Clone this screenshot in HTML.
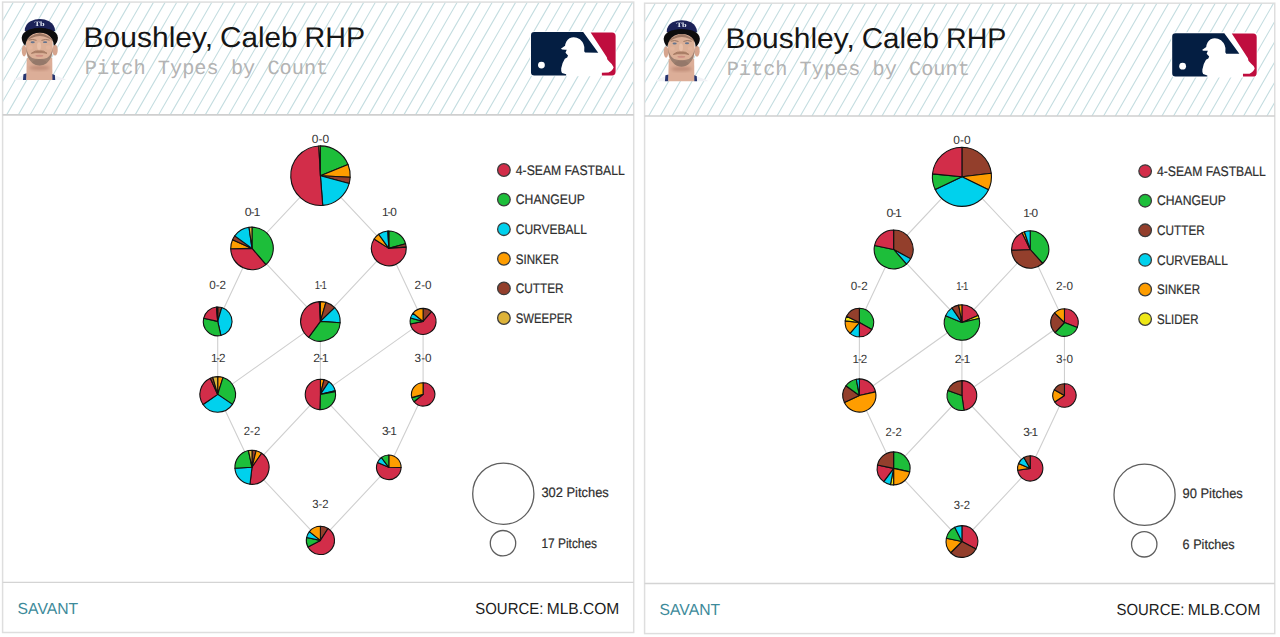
<!DOCTYPE html>
<html><head><meta charset="utf-8"><title>Pitch Types by Count</title>
<style>
html,body{margin:0;padding:0;background:#fff;}
body{width:1280px;height:637px;overflow:hidden;font-family:"Liberation Sans",sans-serif;}
svg{display:block;}
</style></head><body>
<svg width="1280" height="637" viewBox="0 0 1280 637" text-rendering="geometricPrecision">
<rect width="1280" height="637" fill="#fff"/>
<g transform="translate(0,0) scale(1,1)">
<rect x="2.6" y="2.1" width="631.1" height="630.4" fill="#fff" stroke="#dedede" stroke-width="1.5"/>
<clipPath id="hc0"><rect x="3.2" y="2.7" width="629.9" height="112.2"/></clipPath>
<g clip-path="url(#hc0)"><path d="M-86.81,114.9L-21.69,2.1M-75.13,114.9L-10.01,2.1M-63.45,114.9L1.68,2.1M-51.77,114.9L13.36,2.1M-40.08,114.9L25.04,2.1M-28.40,114.9L36.73,2.1M-16.72,114.9L48.41,2.1M-5.03,114.9L60.09,2.1M6.65,114.9L71.78,2.1M18.33,114.9L83.46,2.1M30.02,114.9L95.14,2.1M41.70,114.9L106.82,2.1M53.38,114.9L118.51,2.1M65.06,114.9L130.19,2.1M76.75,114.9L141.87,2.1M88.43,114.9L153.56,2.1M100.11,114.9L165.24,2.1M111.80,114.9L176.92,2.1M123.48,114.9L188.61,2.1M135.16,114.9L200.29,2.1M146.85,114.9L211.97,2.1M158.53,114.9L223.65,2.1M170.21,114.9L235.34,2.1M181.90,114.9L247.02,2.1M193.58,114.9L258.70,2.1M205.26,114.9L270.39,2.1M216.94,114.9L282.07,2.1M228.63,114.9L293.75,2.1M240.31,114.9L305.44,2.1M251.99,114.9L317.12,2.1M263.68,114.9L328.80,2.1M275.36,114.9L340.48,2.1M287.04,114.9L352.17,2.1M298.72,114.9L363.85,2.1M310.41,114.9L375.53,2.1M322.09,114.9L387.22,2.1M333.77,114.9L398.90,2.1M345.46,114.9L410.58,2.1M357.14,114.9L422.27,2.1M368.82,114.9L433.95,2.1M380.51,114.9L445.63,2.1M392.19,114.9L457.31,2.1M403.87,114.9L469.00,2.1M415.55,114.9L480.68,2.1M427.24,114.9L492.36,2.1M438.92,114.9L504.05,2.1M450.60,114.9L515.73,2.1M462.29,114.9L527.41,2.1M473.97,114.9L539.10,2.1M485.65,114.9L550.78,2.1M497.34,114.9L562.46,2.1M509.02,114.9L574.14,2.1M520.70,114.9L585.83,2.1M532.38,114.9L597.51,2.1M544.07,114.9L609.19,2.1M555.75,114.9L620.88,2.1M567.43,114.9L632.56,2.1M579.12,114.9L644.24,2.1M590.80,114.9L655.93,2.1M602.48,114.9L667.61,2.1M614.17,114.9L679.29,2.1M625.85,114.9L690.97,2.1M637.53,114.9L702.66,2.1" stroke="#c4dde0" stroke-width="1.1" fill="none"/></g>
<line x1="2.6" y1="114.9" x2="633.7" y2="114.9" stroke="#cfcfcf" stroke-width="1.6"/>
<line x1="2.6" y1="582.4" x2="633.7" y2="582.4" stroke="#d4d4d4" stroke-width="1.4"/>
<g transform="translate(14,14) scale(0.10989)"><defs><filter id="bl" x="-10%" y="-10%" width="120%" height="120%"><feGaussianBlur stdDeviation="4"/></filter><filter id="bl2" x="-20%" y="-20%" width="140%" height="140%"><feGaussianBlur stdDeviation="6.5"/></filter><filter id="bl3" x="-30%" y="-30%" width="160%" height="160%"><feGaussianBlur stdDeviation="14"/></filter><clipPath id="pc"><rect x="-20" y="0" width="520" height="601"/></clipPath></defs><g clip-path="url(#pc)"><g filter="url(#bl)"><path d="M0,620 L0,592 Q40,575 95,552 L360,555 Q420,575 470,595 L470,620Z" fill="#f1f2f6"/><path d="M80,620 L86,548 L116,540 L112,620Z" fill="#28356f"/><path d="M340,620 L344,545 L372,556 L376,620Z" fill="#28356f"/><path d="M116,400 L112,620 L350,620 L348,400Z" fill="#dcae98"/><ellipse cx="92" cy="335" rx="21" ry="52" fill="#d6a58e"/><ellipse cx="374" cy="328" rx="24" ry="50" fill="#d6a58e"/><path d="M106,140 L352,140 L352,340 Q345,420 295,455 Q232,485 172,455 Q120,420 110,340Z" fill="#dcb097"/></g><g filter="url(#bl3)"><ellipse cx="232" cy="490" rx="95" ry="22" fill="#b98672" opacity="0.8"/></g><g filter="url(#bl2)"><path d="M110,300 Q112,400 168,448 Q232,490 298,448 Q352,400 354,300 Q340,380 300,400 Q270,412 232,410 Q195,412 165,400 Q124,380 110,300Z" fill="#957a6b" opacity="0.9"/><ellipse cx="232" cy="440" rx="62" ry="26" fill="#937869" opacity="0.9"/></g><g filter="url(#bl)"><path d="M158,358 Q190,328 230,336 Q270,328 300,358 Q262,348 230,352 Q196,348 158,358Z" fill="#a87c65" stroke="#a87c65" stroke-width="9" stroke-linejoin="round"/><ellipse cx="231" cy="380" rx="36" ry="9" fill="#cd8f82"/></g><g filter="url(#bl2)"><ellipse cx="228" cy="292" rx="18" ry="34" fill="#e8c0a8"/><ellipse cx="150" cy="305" rx="22" ry="20" fill="#e2b59c"/><ellipse cx="312" cy="305" rx="22" ry="20" fill="#e2b59c"/></g><g filter="url(#bl)"><path d="M135,238 Q170,224 205,240 M250,240 Q285,224 325,238" stroke="#9a7560" stroke-width="9" fill="none"/><ellipse cx="170" cy="258" rx="19" ry="9" fill="#66748e"/><ellipse cx="283" cy="256" rx="19" ry="9" fill="#66748e"/><path d="M110,250 Q130,195 235,172 Q335,195 356,250 Q310,205 235,200 Q160,205 110,250Z" fill="#8e6b58" opacity="0.8"/><path d="M98,155 Q96,98 150,66 Q235,26 320,66 Q374,98 374,155Z" fill="#1b2259"/><path d="M70,215 Q72,165 140,140 Q235,112 332,140 Q398,165 400,215 Q398,262 362,290 Q358,215 300,185 Q235,158 170,185 Q112,215 104,290 Q72,262 70,215Z" fill="#0b0b10"/><text x="232" y="112" text-anchor="middle" font-family="Liberation Serif, serif" font-weight="bold" font-size="60" fill="#e9eef8" textLength="92" lengthAdjust="spacingAndGlyphs">Tb</text></g></g></g>
<text x="83.6" y="46.9" font-family="Liberation Sans, sans-serif" font-size="28.5" fill="#161616" textLength="129.5" lengthAdjust="spacingAndGlyphs">Boushley,</text>
<text x="220.0" y="46.9" font-family="Liberation Sans, sans-serif" font-size="28.5" fill="#161616" textLength="77.5" lengthAdjust="spacingAndGlyphs">Caleb</text>
<text x="304.5" y="46.9" font-family="Liberation Sans, sans-serif" font-size="28.5" fill="#161616" textLength="60.5" lengthAdjust="spacingAndGlyphs">RHP</text>
<text x="84.8" y="74.3" font-family="Liberation Mono, monospace" font-size="20.3" fill="#b3b3b3" textLength="243.5" lengthAdjust="spacingAndGlyphs">Pitch Types by Count</text>
<g transform="translate(520,20) scale(0.10989)"><rect x="92" y="102" width="786" height="411" rx="36" fill="#fff"/><path d="M130,110 L575,110 L712,298 L592,296 Q580,285 585,268 Q590,215 545,175 Q500,145 450,165 Q415,190 410,235 L372,262 Q378,272 425,270 L414,298 L437,322 Q436,342 408,352 Q385,385 375,440 Q372,470 382,482 L420,494 L420,505 L130,505 Q100,505 100,475 L100,140 Q100,110 130,110Z" fill="#041E42"/><path d="M643,113 L838,113 Q870,113 870,145 L870,472 Q870,505 838,505 L745,505 L745,480 L805,478 Q845,460 852,430 Q840,400 818,385 L795,360 L790,338 Z" fill="#BF0D3E"/><circle cx="195" cy="410" r="31" fill="#fff"/></g>
<path d="M320.4,175.7L252.0,248.4M320.4,175.7L388.8,248.4M252.0,248.4L217.7,321.4M252.0,248.4L320.4,321.4M388.8,248.4L320.4,321.4M388.8,248.4L423.1,321.4M217.7,321.4L217.7,394.4M320.4,321.4L217.7,394.4M320.4,321.4L320.4,394.4M423.1,321.4L320.4,394.4M423.1,321.4L423.1,394.4M217.7,394.4L252.0,467.3M320.4,394.4L252.0,467.3M320.4,394.4L388.8,467.3M423.1,394.4L388.8,467.3M252.0,467.3L320.4,540.4M388.8,467.3L320.4,540.4" stroke="#cfcfcf" stroke-width="1.1" fill="none"/>
<g stroke="#111" stroke-width="1.1" stroke-linejoin="round"><path d="M320.40,175.70L320.40,145.90A29.80,29.80 0 0 1 348.03,164.54Z" fill="#1DBE3A"/><path d="M320.40,175.70L348.03,164.54A29.80,29.80 0 0 1 350.16,177.26Z" fill="#FE9D00"/><path d="M320.40,175.70L350.16,177.26A29.80,29.80 0 0 1 349.18,183.41Z" fill="#933F2C"/><path d="M320.40,175.70L349.18,183.41A29.80,29.80 0 0 1 322.74,205.41Z" fill="#00D1ED"/><path d="M320.40,175.70L322.74,205.41A29.80,29.80 0 1 1 318.84,145.94Z" fill="#D22D49"/><path d="M320.40,175.70L318.84,145.94A29.80,29.80 0 0 1 320.40,145.90Z" fill="#DDB33A"/></g>
<text x="311.8" y="143.4" font-family="Liberation Sans, sans-serif" font-size="11.8" fill="#353535" textLength="17.3" lengthAdjust="spacingAndGlyphs">0-0</text>
<g stroke="#111" stroke-width="1.1" stroke-linejoin="round"><path d="M252.00,248.40L252.00,227.10A21.30,21.30 0 0 1 265.89,264.55Z" fill="#1DBE3A"/><path d="M252.00,248.40L265.89,264.55A21.30,21.30 0 0 1 230.70,248.77Z" fill="#D22D49"/><path d="M252.00,248.40L230.70,248.77A21.30,21.30 0 0 1 232.54,239.74Z" fill="#FE9D00"/><path d="M252.00,248.40L232.54,239.74A21.30,21.30 0 0 1 234.77,235.88Z" fill="#933F2C"/><path d="M252.00,248.40L234.77,235.88A21.30,21.30 0 0 1 249.04,227.31Z" fill="#00D1ED"/><path d="M252.00,248.40L249.04,227.31A21.30,21.30 0 0 1 252.00,227.10Z" fill="#DDB33A"/></g>
<text x="244.8" y="216.1" font-family="Liberation Sans, sans-serif" font-size="11.8" fill="#353535" letter-spacing="-1.1" textLength="14.4" lengthAdjust="spacingAndGlyphs">0-1</text>
<g stroke="#111" stroke-width="1.1" stroke-linejoin="round"><path d="M388.80,248.40L388.80,231.00A17.40,17.40 0 0 1 405.58,243.78Z" fill="#1DBE3A"/><path d="M388.80,248.40L405.58,243.78A17.40,17.40 0 0 1 406.15,247.13Z" fill="#933F2C"/><path d="M388.80,248.40L406.15,247.13A17.40,17.40 0 1 1 374.12,239.05Z" fill="#D22D49"/><path d="M388.80,248.40L374.12,239.05A17.40,17.40 0 0 1 378.70,234.23Z" fill="#FE9D00"/><path d="M388.80,248.40L378.70,234.23A17.40,17.40 0 0 1 387.89,231.02Z" fill="#00D1ED"/><path d="M388.80,248.40L387.89,231.02A17.40,17.40 0 0 1 388.80,231.00Z" fill="#222222"/></g>
<text x="381.9" y="216.1" font-family="Liberation Sans, sans-serif" font-size="11.8" fill="#353535" letter-spacing="-1.1" textLength="13.8" lengthAdjust="spacingAndGlyphs">1-0</text>
<g stroke="#111" stroke-width="1.1" stroke-linejoin="round"><path d="M217.70,321.40L217.70,307.00A14.40,14.40 0 0 1 221.77,307.59Z" fill="#933F2C"/><path d="M217.70,321.40L221.77,307.59A14.40,14.40 0 0 1 220.89,335.44Z" fill="#00D1ED"/><path d="M217.70,321.40L220.89,335.44A14.40,14.40 0 0 1 203.65,318.26Z" fill="#1DBE3A"/><path d="M217.70,321.40L203.65,318.26A14.40,14.40 0 0 1 216.44,307.05Z" fill="#D22D49"/><path d="M217.70,321.40L216.44,307.05A14.40,14.40 0 0 1 217.70,307.00Z" fill="#222222"/></g>
<text x="209.2" y="289.1" font-family="Liberation Sans, sans-serif" font-size="11.8" fill="#353535" textLength="16.9" lengthAdjust="spacingAndGlyphs">0-2</text>
<g stroke="#111" stroke-width="1.1" stroke-linejoin="round"><path d="M320.40,321.40L320.40,301.60A19.80,19.80 0 0 1 325.92,302.39Z" fill="#FE9D00"/><path d="M320.40,321.40L325.92,302.39A19.80,19.80 0 0 1 334.71,307.72Z" fill="#933F2C"/><path d="M320.40,321.40L334.71,307.72A19.80,19.80 0 0 1 340.16,322.68Z" fill="#00D1ED"/><path d="M320.40,321.40L340.16,322.68A19.80,19.80 0 0 1 308.65,337.34Z" fill="#1DBE3A"/><path d="M320.40,321.40L308.65,337.34A19.80,19.80 0 0 1 319.36,301.63Z" fill="#D22D49"/><path d="M320.40,321.40L319.36,301.63A19.80,19.80 0 0 1 320.40,301.60Z" fill="#222222"/></g>
<text x="314.8" y="289.1" font-family="Liberation Sans, sans-serif" font-size="11.8" fill="#353535" letter-spacing="-1.1" textLength="11.2" lengthAdjust="spacingAndGlyphs">1-1</text>
<g stroke="#111" stroke-width="1.1" stroke-linejoin="round"><path d="M423.10,321.40L423.10,308.40A13.00,13.00 0 0 1 431.61,311.57Z" fill="#933F2C"/><path d="M423.10,321.40L431.61,311.57A13.00,13.00 0 1 1 410.35,323.95Z" fill="#D22D49"/><path d="M423.10,321.40L410.35,323.95A13.00,13.00 0 0 1 410.57,317.93Z" fill="#1DBE3A"/><path d="M423.10,321.40L410.57,317.93A13.00,13.00 0 0 1 412.95,313.27Z" fill="#00D1ED"/><path d="M423.10,321.40L412.95,313.27A13.00,13.00 0 0 1 423.10,308.40Z" fill="#FE9D00"/></g>
<text x="414.6" y="289.1" font-family="Liberation Sans, sans-serif" font-size="11.8" fill="#353535" textLength="17" lengthAdjust="spacingAndGlyphs">2-0</text>
<g stroke="#111" stroke-width="1.1" stroke-linejoin="round"><path d="M217.70,394.40L217.70,376.60A17.80,17.80 0 0 1 223.05,377.42Z" fill="#FE9D00"/><path d="M217.70,394.40L223.05,377.42A17.80,17.80 0 0 1 232.46,404.35Z" fill="#1DBE3A"/><path d="M217.70,394.40L232.46,404.35A17.80,17.80 0 0 1 203.03,404.48Z" fill="#00D1ED"/><path d="M217.70,394.40L203.03,404.48A17.80,17.80 0 0 1 210.32,378.20Z" fill="#D22D49"/><path d="M217.70,394.40L210.32,378.20A17.80,17.80 0 0 1 212.79,377.29Z" fill="#933F2C"/><path d="M217.70,394.40L212.79,377.29A17.80,17.80 0 0 1 217.70,376.60Z" fill="#DDB33A"/></g>
<text x="210.9" y="362.1" font-family="Liberation Sans, sans-serif" font-size="11.8" fill="#353535" letter-spacing="-1.1" textLength="13.6" lengthAdjust="spacingAndGlyphs">1-2</text>
<g stroke="#111" stroke-width="1.1" stroke-linejoin="round"><path d="M320.40,394.40L320.40,379.20A15.20,15.20 0 0 1 324.05,379.65Z" fill="#FE9D00"/><path d="M320.40,394.40L324.05,379.65A15.20,15.20 0 0 1 328.90,381.80Z" fill="#933F2C"/><path d="M320.40,394.40L328.90,381.80A15.20,15.20 0 0 1 335.15,390.72Z" fill="#00D1ED"/><path d="M320.40,394.40L335.15,390.72A15.20,15.20 0 0 1 335.37,391.76Z" fill="#222222"/><path d="M320.40,394.40L335.37,391.76A15.20,15.20 0 0 1 319.87,409.59Z" fill="#1DBE3A"/><path d="M320.40,394.40L319.87,409.59A15.20,15.20 0 0 1 320.40,379.20Z" fill="#D22D49"/></g>
<text x="313.2" y="362.1" font-family="Liberation Sans, sans-serif" font-size="11.8" fill="#353535" letter-spacing="-1.1" textLength="14.4" lengthAdjust="spacingAndGlyphs">2-1</text>
<g stroke="#111" stroke-width="1.1" stroke-linejoin="round"><path d="M423.10,394.40L423.10,382.70A11.70,11.70 0 1 1 414.01,401.76Z" fill="#D22D49"/><path d="M423.10,394.40L414.01,401.76A11.70,11.70 0 0 1 411.85,397.62Z" fill="#1DBE3A"/><path d="M423.10,394.40L411.85,397.62A11.70,11.70 0 0 1 423.10,382.70Z" fill="#FE9D00"/></g>
<text x="414.6" y="362.1" font-family="Liberation Sans, sans-serif" font-size="11.8" fill="#353535" textLength="17" lengthAdjust="spacingAndGlyphs">3-0</text>
<g stroke="#111" stroke-width="1.1" stroke-linejoin="round"><path d="M252.00,467.30L252.00,450.20A17.10,17.10 0 0 1 256.14,450.71Z" fill="#933F2C"/><path d="M252.00,467.30L256.14,450.71A17.10,17.10 0 0 1 261.66,453.19Z" fill="#FE9D00"/><path d="M252.00,467.30L261.66,453.19A17.10,17.10 0 0 1 249.98,484.28Z" fill="#D22D49"/><path d="M252.00,467.30L249.98,484.28A17.10,17.10 0 0 1 234.92,468.19Z" fill="#00D1ED"/><path d="M252.00,467.30L234.92,468.19A17.10,17.10 0 0 1 248.44,450.57Z" fill="#1DBE3A"/><path d="M252.00,467.30L248.44,450.57A17.10,17.10 0 0 1 252.00,450.20Z" fill="#DDB33A"/></g>
<text x="243.8" y="435.0" font-family="Liberation Sans, sans-serif" font-size="11.8" fill="#353535" textLength="16.4" lengthAdjust="spacingAndGlyphs">2-2</text>
<g stroke="#111" stroke-width="1.1" stroke-linejoin="round"><path d="M388.80,467.30L388.80,455.00A12.30,12.30 0 0 1 401.10,467.51Z" fill="#FE9D00"/><path d="M388.80,467.30L401.10,467.51A12.30,12.30 0 1 1 377.53,462.38Z" fill="#D22D49"/><path d="M388.80,467.30L377.53,462.38A12.30,12.30 0 0 1 381.36,457.50Z" fill="#00D1ED"/><path d="M388.80,467.30L381.36,457.50A12.30,12.30 0 0 1 388.80,455.00Z" fill="#1DBE3A"/></g>
<text x="381.9" y="435.0" font-family="Liberation Sans, sans-serif" font-size="11.8" fill="#353535" letter-spacing="-1.1" textLength="13.8" lengthAdjust="spacingAndGlyphs">3-1</text>
<g stroke="#111" stroke-width="1.1" stroke-linejoin="round"><path d="M320.40,540.40L320.40,526.30A14.10,14.10 0 0 1 328.04,528.55Z" fill="#933F2C"/><path d="M320.40,540.40L328.04,528.55A14.10,14.10 0 1 1 307.95,547.02Z" fill="#D22D49"/><path d="M320.40,540.40L307.95,547.02A14.10,14.10 0 0 1 306.59,537.56Z" fill="#1DBE3A"/><path d="M320.40,540.40L306.59,537.56A14.10,14.10 0 0 1 309.38,531.60Z" fill="#00D1ED"/><path d="M320.40,540.40L309.38,531.60A14.10,14.10 0 0 1 320.40,526.30Z" fill="#FE9D00"/></g>
<text x="312.2" y="508.1" font-family="Liberation Sans, sans-serif" font-size="11.8" fill="#353535" textLength="16.4" lengthAdjust="spacingAndGlyphs">3-2</text>
<circle cx="503.9" cy="170.0" r="6.3" fill="#D22D49" stroke="#3c3c3c" stroke-width="1.3"/>
<text x="515.8" y="174.8" font-family="Liberation Sans, sans-serif" font-size="13.8" fill="#2e2e2e" stroke="#2e2e2e" stroke-width="0.2" textLength="109" lengthAdjust="spacingAndGlyphs">4-SEAM FASTBALL</text>
<circle cx="503.9" cy="199.6" r="6.3" fill="#1DBE3A" stroke="#3c3c3c" stroke-width="1.3"/>
<text x="515.8" y="204.4" font-family="Liberation Sans, sans-serif" font-size="13.8" fill="#2e2e2e" stroke="#2e2e2e" stroke-width="0.2" textLength="69" lengthAdjust="spacingAndGlyphs">CHANGEUP</text>
<circle cx="503.9" cy="229.2" r="6.3" fill="#00D1ED" stroke="#3c3c3c" stroke-width="1.3"/>
<text x="515.8" y="234.0" font-family="Liberation Sans, sans-serif" font-size="13.8" fill="#2e2e2e" stroke="#2e2e2e" stroke-width="0.2" textLength="71" lengthAdjust="spacingAndGlyphs">CURVEBALL</text>
<circle cx="503.9" cy="258.8" r="6.3" fill="#FE9D00" stroke="#3c3c3c" stroke-width="1.3"/>
<text x="515.8" y="263.6" font-family="Liberation Sans, sans-serif" font-size="13.8" fill="#2e2e2e" stroke="#2e2e2e" stroke-width="0.2" textLength="43" lengthAdjust="spacingAndGlyphs">SINKER</text>
<circle cx="503.9" cy="288.4" r="6.3" fill="#933F2C" stroke="#3c3c3c" stroke-width="1.3"/>
<text x="515.8" y="293.2" font-family="Liberation Sans, sans-serif" font-size="13.8" fill="#2e2e2e" stroke="#2e2e2e" stroke-width="0.2" textLength="47.8" lengthAdjust="spacingAndGlyphs">CUTTER</text>
<circle cx="503.9" cy="318.0" r="6.3" fill="#DDB33A" stroke="#3c3c3c" stroke-width="1.3"/>
<text x="515.8" y="322.8" font-family="Liberation Sans, sans-serif" font-size="13.8" fill="#2e2e2e" stroke="#2e2e2e" stroke-width="0.2" textLength="56.7" lengthAdjust="spacingAndGlyphs">SWEEPER</text>
<circle cx="503.3" cy="493.7" r="30.6" fill="#fff" stroke="#5e5e5e" stroke-width="1.3"/>
<circle cx="503.0" cy="543.2" r="12.7" fill="#fff" stroke="#5e5e5e" stroke-width="1.3"/>
<text x="541.4" y="497.3" font-family="Liberation Sans, sans-serif" font-size="13.7" fill="#2e2e2e" stroke="#2e2e2e" stroke-width="0.2" textLength="67.4" lengthAdjust="spacingAndGlyphs">302 Pitches</text>
<text x="541.4" y="547.6" font-family="Liberation Sans, sans-serif" font-size="13.7" fill="#2e2e2e" stroke="#2e2e2e" stroke-width="0.2" textLength="55.7" lengthAdjust="spacingAndGlyphs">17 Pitches</text>
<text x="17.6" y="614" font-family="Liberation Sans, sans-serif" font-size="16" fill="#3d8a9a" textLength="60.6" lengthAdjust="spacingAndGlyphs">SAVANT</text>
<text x="475.3" y="614" font-family="Liberation Sans, sans-serif" font-size="16" fill="#1c1c1c" textLength="68" lengthAdjust="spacingAndGlyphs">SOURCE:</text>
<text x="546.7" y="614" font-family="Liberation Sans, sans-serif" font-size="16" fill="#1c1c1c" textLength="72.6" lengthAdjust="spacingAndGlyphs">MLB.COM</text>
</g>
<g transform="translate(642.0,1.1) scale(0.9985,1)">
<rect x="2.6" y="2.1" width="631.1" height="630.4" fill="#fff" stroke="#dedede" stroke-width="1.5"/>
<clipPath id="hc642"><rect x="3.2" y="2.7" width="629.9" height="112.2"/></clipPath>
<g clip-path="url(#hc642)"><path d="M-86.81,114.9L-21.69,2.1M-75.13,114.9L-10.01,2.1M-63.45,114.9L1.68,2.1M-51.77,114.9L13.36,2.1M-40.08,114.9L25.04,2.1M-28.40,114.9L36.73,2.1M-16.72,114.9L48.41,2.1M-5.03,114.9L60.09,2.1M6.65,114.9L71.78,2.1M18.33,114.9L83.46,2.1M30.02,114.9L95.14,2.1M41.70,114.9L106.82,2.1M53.38,114.9L118.51,2.1M65.06,114.9L130.19,2.1M76.75,114.9L141.87,2.1M88.43,114.9L153.56,2.1M100.11,114.9L165.24,2.1M111.80,114.9L176.92,2.1M123.48,114.9L188.61,2.1M135.16,114.9L200.29,2.1M146.85,114.9L211.97,2.1M158.53,114.9L223.65,2.1M170.21,114.9L235.34,2.1M181.90,114.9L247.02,2.1M193.58,114.9L258.70,2.1M205.26,114.9L270.39,2.1M216.94,114.9L282.07,2.1M228.63,114.9L293.75,2.1M240.31,114.9L305.44,2.1M251.99,114.9L317.12,2.1M263.68,114.9L328.80,2.1M275.36,114.9L340.48,2.1M287.04,114.9L352.17,2.1M298.72,114.9L363.85,2.1M310.41,114.9L375.53,2.1M322.09,114.9L387.22,2.1M333.77,114.9L398.90,2.1M345.46,114.9L410.58,2.1M357.14,114.9L422.27,2.1M368.82,114.9L433.95,2.1M380.51,114.9L445.63,2.1M392.19,114.9L457.31,2.1M403.87,114.9L469.00,2.1M415.55,114.9L480.68,2.1M427.24,114.9L492.36,2.1M438.92,114.9L504.05,2.1M450.60,114.9L515.73,2.1M462.29,114.9L527.41,2.1M473.97,114.9L539.10,2.1M485.65,114.9L550.78,2.1M497.34,114.9L562.46,2.1M509.02,114.9L574.14,2.1M520.70,114.9L585.83,2.1M532.38,114.9L597.51,2.1M544.07,114.9L609.19,2.1M555.75,114.9L620.88,2.1M567.43,114.9L632.56,2.1M579.12,114.9L644.24,2.1M590.80,114.9L655.93,2.1M602.48,114.9L667.61,2.1M614.17,114.9L679.29,2.1M625.85,114.9L690.97,2.1M637.53,114.9L702.66,2.1" stroke="#c4dde0" stroke-width="1.1" fill="none"/></g>
<line x1="2.6" y1="114.9" x2="633.7" y2="114.9" stroke="#cfcfcf" stroke-width="1.6"/>
<line x1="2.6" y1="582.4" x2="633.7" y2="582.4" stroke="#d4d4d4" stroke-width="1.4"/>
<g transform="translate(14,14) scale(0.10989)"><defs><filter id="bl" x="-10%" y="-10%" width="120%" height="120%"><feGaussianBlur stdDeviation="4"/></filter><filter id="bl2" x="-20%" y="-20%" width="140%" height="140%"><feGaussianBlur stdDeviation="6.5"/></filter><filter id="bl3" x="-30%" y="-30%" width="160%" height="160%"><feGaussianBlur stdDeviation="14"/></filter><clipPath id="pc"><rect x="-20" y="0" width="520" height="601"/></clipPath></defs><g clip-path="url(#pc)"><g filter="url(#bl)"><path d="M0,620 L0,592 Q40,575 95,552 L360,555 Q420,575 470,595 L470,620Z" fill="#f1f2f6"/><path d="M80,620 L86,548 L116,540 L112,620Z" fill="#28356f"/><path d="M340,620 L344,545 L372,556 L376,620Z" fill="#28356f"/><path d="M116,400 L112,620 L350,620 L348,400Z" fill="#dcae98"/><ellipse cx="92" cy="335" rx="21" ry="52" fill="#d6a58e"/><ellipse cx="374" cy="328" rx="24" ry="50" fill="#d6a58e"/><path d="M106,140 L352,140 L352,340 Q345,420 295,455 Q232,485 172,455 Q120,420 110,340Z" fill="#dcb097"/></g><g filter="url(#bl3)"><ellipse cx="232" cy="490" rx="95" ry="22" fill="#b98672" opacity="0.8"/></g><g filter="url(#bl2)"><path d="M110,300 Q112,400 168,448 Q232,490 298,448 Q352,400 354,300 Q340,380 300,400 Q270,412 232,410 Q195,412 165,400 Q124,380 110,300Z" fill="#957a6b" opacity="0.9"/><ellipse cx="232" cy="440" rx="62" ry="26" fill="#937869" opacity="0.9"/></g><g filter="url(#bl)"><path d="M158,358 Q190,328 230,336 Q270,328 300,358 Q262,348 230,352 Q196,348 158,358Z" fill="#a87c65" stroke="#a87c65" stroke-width="9" stroke-linejoin="round"/><ellipse cx="231" cy="380" rx="36" ry="9" fill="#cd8f82"/></g><g filter="url(#bl2)"><ellipse cx="228" cy="292" rx="18" ry="34" fill="#e8c0a8"/><ellipse cx="150" cy="305" rx="22" ry="20" fill="#e2b59c"/><ellipse cx="312" cy="305" rx="22" ry="20" fill="#e2b59c"/></g><g filter="url(#bl)"><path d="M135,238 Q170,224 205,240 M250,240 Q285,224 325,238" stroke="#9a7560" stroke-width="9" fill="none"/><ellipse cx="170" cy="258" rx="19" ry="9" fill="#66748e"/><ellipse cx="283" cy="256" rx="19" ry="9" fill="#66748e"/><path d="M110,250 Q130,195 235,172 Q335,195 356,250 Q310,205 235,200 Q160,205 110,250Z" fill="#8e6b58" opacity="0.8"/><path d="M98,155 Q96,98 150,66 Q235,26 320,66 Q374,98 374,155Z" fill="#1b2259"/><path d="M70,215 Q72,165 140,140 Q235,112 332,140 Q398,165 400,215 Q398,262 362,290 Q358,215 300,185 Q235,158 170,185 Q112,215 104,290 Q72,262 70,215Z" fill="#0b0b10"/><text x="232" y="112" text-anchor="middle" font-family="Liberation Serif, serif" font-weight="bold" font-size="60" fill="#e9eef8" textLength="92" lengthAdjust="spacingAndGlyphs">Tb</text></g></g></g>
<text x="83.6" y="46.9" font-family="Liberation Sans, sans-serif" font-size="28.5" fill="#161616" textLength="129.5" lengthAdjust="spacingAndGlyphs">Boushley,</text>
<text x="220.0" y="46.9" font-family="Liberation Sans, sans-serif" font-size="28.5" fill="#161616" textLength="77.5" lengthAdjust="spacingAndGlyphs">Caleb</text>
<text x="304.5" y="46.9" font-family="Liberation Sans, sans-serif" font-size="28.5" fill="#161616" textLength="60.5" lengthAdjust="spacingAndGlyphs">RHP</text>
<text x="84.8" y="74.3" font-family="Liberation Mono, monospace" font-size="20.3" fill="#b3b3b3" textLength="243.5" lengthAdjust="spacingAndGlyphs">Pitch Types by Count</text>
<g transform="translate(520,20) scale(0.10989)"><rect x="92" y="102" width="786" height="411" rx="36" fill="#fff"/><path d="M130,110 L575,110 L712,298 L592,296 Q580,285 585,268 Q590,215 545,175 Q500,145 450,165 Q415,190 410,235 L372,262 Q378,272 425,270 L414,298 L437,322 Q436,342 408,352 Q385,385 375,440 Q372,470 382,482 L420,494 L420,505 L130,505 Q100,505 100,475 L100,140 Q100,110 130,110Z" fill="#041E42"/><path d="M643,113 L838,113 Q870,113 870,145 L870,472 Q870,505 838,505 L745,505 L745,480 L805,478 Q845,460 852,430 Q840,400 818,385 L795,360 L790,338 Z" fill="#BF0D3E"/><circle cx="195" cy="410" r="31" fill="#fff"/></g>
<path d="M320.4,175.7L252.0,248.4M320.4,175.7L388.8,248.4M252.0,248.4L217.7,321.4M252.0,248.4L320.4,321.4M388.8,248.4L320.4,321.4M388.8,248.4L423.1,321.4M217.7,321.4L217.7,394.4M320.4,321.4L217.7,394.4M320.4,321.4L320.4,394.4M423.1,321.4L320.4,394.4M423.1,321.4L423.1,394.4M217.7,394.4L252.0,467.3M320.4,394.4L252.0,467.3M320.4,394.4L388.8,467.3M423.1,394.4L388.8,467.3M252.0,467.3L320.4,540.4M388.8,467.3L320.4,540.4" stroke="#cfcfcf" stroke-width="1.1" fill="none"/>
<g stroke="#111" stroke-width="1.1" stroke-linejoin="round"><path d="M320.40,175.70L320.40,146.10A29.60,29.60 0 0 1 349.78,172.09Z" fill="#933F2C"/><path d="M320.40,175.70L349.78,172.09A29.60,29.60 0 0 1 347.03,188.63Z" fill="#FE9D00"/><path d="M320.40,175.70L347.03,188.63A29.60,29.60 0 0 1 293.64,188.35Z" fill="#00D1ED"/><path d="M320.40,175.70L293.64,188.35A29.60,29.60 0 0 1 290.95,172.76Z" fill="#1DBE3A"/><path d="M320.40,175.70L290.95,172.76A29.60,29.60 0 0 1 320.40,146.10Z" fill="#D22D49"/></g>
<text x="311.8" y="143.4" font-family="Liberation Sans, sans-serif" font-size="11.8" fill="#353535" textLength="17.3" lengthAdjust="spacingAndGlyphs">0-0</text>
<g stroke="#111" stroke-width="1.1" stroke-linejoin="round"><path d="M252.00,248.40L252.00,228.90A19.50,19.50 0 0 1 269.10,257.76Z" fill="#933F2C"/><path d="M252.00,248.40L269.10,257.76A19.50,19.50 0 0 1 264.87,263.05Z" fill="#00D1ED"/><path d="M252.00,248.40L264.87,263.05A19.50,19.50 0 0 1 232.91,244.41Z" fill="#1DBE3A"/><path d="M252.00,248.40L232.91,244.41A19.50,19.50 0 0 1 252.00,228.90Z" fill="#D22D49"/></g>
<text x="244.8" y="216.1" font-family="Liberation Sans, sans-serif" font-size="11.8" fill="#353535" letter-spacing="-1.1" textLength="14.4" lengthAdjust="spacingAndGlyphs">0-1</text>
<g stroke="#111" stroke-width="1.1" stroke-linejoin="round"><path d="M388.80,248.40L388.80,229.70A18.70,18.70 0 0 1 401.22,262.38Z" fill="#1DBE3A"/><path d="M388.80,248.40L401.22,262.38A18.70,18.70 0 0 1 370.11,249.05Z" fill="#933F2C"/><path d="M388.80,248.40L370.11,249.05A18.70,18.70 0 0 1 380.66,231.56Z" fill="#D22D49"/><path d="M388.80,248.40L380.66,231.56A18.70,18.70 0 0 1 383.02,230.62Z" fill="#FE9D00"/><path d="M388.80,248.40L383.02,230.62A18.70,18.70 0 0 1 388.80,229.70Z" fill="#00D1ED"/></g>
<text x="381.9" y="216.1" font-family="Liberation Sans, sans-serif" font-size="11.8" fill="#353535" letter-spacing="-1.1" textLength="13.8" lengthAdjust="spacingAndGlyphs">1-0</text>
<g stroke="#111" stroke-width="1.1" stroke-linejoin="round"><path d="M217.70,321.40L217.70,307.10A14.30,14.30 0 0 1 230.21,328.33Z" fill="#1DBE3A"/><path d="M217.70,321.40L230.21,328.33A14.30,14.30 0 0 1 217.70,335.70Z" fill="#D22D49"/><path d="M217.70,321.40L217.70,335.70A14.30,14.30 0 0 1 208.32,332.19Z" fill="#00D1ED"/><path d="M217.70,321.40L208.32,332.19A14.30,14.30 0 0 1 203.50,319.73Z" fill="#FE9D00"/><path d="M217.70,321.40L203.50,319.73A14.30,14.30 0 0 1 204.85,315.13Z" fill="#EEE716"/><path d="M217.70,321.40L204.85,315.13A14.30,14.30 0 0 1 217.70,307.10Z" fill="#933F2C"/></g>
<text x="209.2" y="289.1" font-family="Liberation Sans, sans-serif" font-size="11.8" fill="#353535" textLength="16.9" lengthAdjust="spacingAndGlyphs">0-2</text>
<g stroke="#111" stroke-width="1.1" stroke-linejoin="round"><path d="M320.40,321.40L320.40,303.70A17.70,17.70 0 0 1 336.63,314.34Z" fill="#D22D49"/><path d="M320.40,321.40L336.63,314.34A17.70,17.70 0 0 1 337.64,317.39Z" fill="#EEE716"/><path d="M320.40,321.40L337.64,317.39A17.70,17.70 0 1 1 304.07,314.57Z" fill="#1DBE3A"/><path d="M320.40,321.40L304.07,314.57A17.70,17.70 0 0 1 310.43,306.78Z" fill="#00D1ED"/><path d="M320.40,321.40L310.43,306.78A17.70,17.70 0 0 1 317.14,304.00Z" fill="#933F2C"/><path d="M320.40,321.40L317.14,304.00A17.70,17.70 0 0 1 320.40,303.70Z" fill="#FE9D00"/></g>
<text x="314.8" y="289.1" font-family="Liberation Sans, sans-serif" font-size="11.8" fill="#353535" letter-spacing="-1.1" textLength="11.2" lengthAdjust="spacingAndGlyphs">1-1</text>
<g stroke="#111" stroke-width="1.1" stroke-linejoin="round"><path d="M423.10,321.40L423.10,307.60A13.80,13.80 0 0 1 435.92,326.50Z" fill="#D22D49"/><path d="M423.10,321.40L435.92,326.50A13.80,13.80 0 0 1 413.69,331.49Z" fill="#1DBE3A"/><path d="M423.10,321.40L413.69,331.49A13.80,13.80 0 0 1 413.17,311.81Z" fill="#933F2C"/><path d="M423.10,321.40L413.17,311.81A13.80,13.80 0 0 1 423.10,307.60Z" fill="#FE9D00"/></g>
<text x="414.6" y="289.1" font-family="Liberation Sans, sans-serif" font-size="11.8" fill="#353535" textLength="17" lengthAdjust="spacingAndGlyphs">2-0</text>
<g stroke="#111" stroke-width="1.1" stroke-linejoin="round"><path d="M217.70,394.40L217.70,377.80A16.60,16.60 0 0 1 233.89,390.75Z" fill="#D22D49"/><path d="M217.70,394.40L233.89,390.75A16.60,16.60 0 0 1 202.69,401.49Z" fill="#FE9D00"/><path d="M217.70,394.40L202.69,401.49A16.60,16.60 0 0 1 204.25,384.67Z" fill="#933F2C"/><path d="M217.70,394.40L204.25,384.67A16.60,16.60 0 0 1 214.59,378.09Z" fill="#1DBE3A"/><path d="M217.70,394.40L214.59,378.09A16.60,16.60 0 0 1 217.70,377.80Z" fill="#00D1ED"/></g>
<text x="210.9" y="362.1" font-family="Liberation Sans, sans-serif" font-size="11.8" fill="#353535" letter-spacing="-1.1" textLength="13.6" lengthAdjust="spacingAndGlyphs">1-2</text>
<g stroke="#111" stroke-width="1.1" stroke-linejoin="round"><path d="M320.40,394.40L320.40,379.50A14.90,14.90 0 0 1 322.47,409.15Z" fill="#D22D49"/><path d="M320.40,394.40L322.47,409.15A14.90,14.90 0 0 1 306.40,389.30Z" fill="#1DBE3A"/><path d="M320.40,394.40L306.40,389.30A14.90,14.90 0 0 1 320.40,379.50Z" fill="#933F2C"/></g>
<text x="313.2" y="362.1" font-family="Liberation Sans, sans-serif" font-size="11.8" fill="#353535" letter-spacing="-1.1" textLength="14.4" lengthAdjust="spacingAndGlyphs">2-1</text>
<g stroke="#111" stroke-width="1.1" stroke-linejoin="round"><path d="M423.10,394.40L423.10,382.70A11.70,11.70 0 1 1 413.34,400.86Z" fill="#D22D49"/><path d="M423.10,394.40L413.34,400.86A11.70,11.70 0 0 1 412.92,388.64Z" fill="#FE9D00"/><path d="M423.10,394.40L412.92,388.64A11.70,11.70 0 0 1 423.10,382.70Z" fill="#933F2C"/></g>
<text x="414.6" y="362.1" font-family="Liberation Sans, sans-serif" font-size="11.8" fill="#353535" textLength="17" lengthAdjust="spacingAndGlyphs">3-0</text>
<g stroke="#111" stroke-width="1.1" stroke-linejoin="round"><path d="M252.00,467.30L252.00,450.80A16.50,16.50 0 0 1 268.13,470.79Z" fill="#1DBE3A"/><path d="M252.00,467.30L268.13,470.79A16.50,16.50 0 0 1 252.00,483.80Z" fill="#FE9D00"/><path d="M252.00,467.30L252.00,483.80A16.50,16.50 0 0 1 248.85,483.50Z" fill="#EEE716"/><path d="M252.00,467.30L248.85,483.50A16.50,16.50 0 0 1 242.07,480.48Z" fill="#00D1ED"/><path d="M252.00,467.30L242.07,480.48A16.50,16.50 0 0 1 235.84,463.98Z" fill="#D22D49"/><path d="M252.00,467.30L235.84,463.98A16.50,16.50 0 0 1 252.00,450.80Z" fill="#933F2C"/></g>
<text x="243.8" y="435.0" font-family="Liberation Sans, sans-serif" font-size="11.8" fill="#353535" textLength="16.4" lengthAdjust="spacingAndGlyphs">2-2</text>
<g stroke="#111" stroke-width="1.1" stroke-linejoin="round"><path d="M388.80,467.30L388.80,454.60A12.70,12.70 0 1 1 376.22,469.07Z" fill="#D22D49"/><path d="M388.80,467.30L376.22,469.07A12.70,12.70 0 0 1 377.11,462.34Z" fill="#FE9D00"/><path d="M388.80,467.30L377.11,462.34A12.70,12.70 0 0 1 382.45,456.30Z" fill="#00D1ED"/><path d="M388.80,467.30L382.45,456.30A12.70,12.70 0 0 1 388.80,454.60Z" fill="#933F2C"/></g>
<text x="381.9" y="435.0" font-family="Liberation Sans, sans-serif" font-size="11.8" fill="#353535" letter-spacing="-1.1" textLength="13.8" lengthAdjust="spacingAndGlyphs">3-1</text>
<g stroke="#111" stroke-width="1.1" stroke-linejoin="round"><path d="M320.40,540.40L320.40,524.50A15.90,15.90 0 0 1 334.44,547.86Z" fill="#D22D49"/><path d="M320.40,540.40L334.44,547.86A15.90,15.90 0 0 1 309.16,551.64Z" fill="#933F2C"/><path d="M320.40,540.40L309.16,551.64A15.90,15.90 0 0 1 304.85,537.09Z" fill="#FE9D00"/><path d="M320.40,540.40L304.85,537.09A15.90,15.90 0 0 1 313.18,526.23Z" fill="#1DBE3A"/><path d="M320.40,540.40L313.18,526.23A15.90,15.90 0 0 1 320.40,524.50Z" fill="#00D1ED"/></g>
<text x="312.2" y="508.1" font-family="Liberation Sans, sans-serif" font-size="11.8" fill="#353535" textLength="16.4" lengthAdjust="spacingAndGlyphs">3-2</text>
<circle cx="503.9" cy="170.0" r="6.3" fill="#D22D49" stroke="#3c3c3c" stroke-width="1.3"/>
<text x="515.8" y="174.8" font-family="Liberation Sans, sans-serif" font-size="13.8" fill="#2e2e2e" stroke="#2e2e2e" stroke-width="0.2" textLength="109" lengthAdjust="spacingAndGlyphs">4-SEAM FASTBALL</text>
<circle cx="503.9" cy="199.6" r="6.3" fill="#1DBE3A" stroke="#3c3c3c" stroke-width="1.3"/>
<text x="515.8" y="204.4" font-family="Liberation Sans, sans-serif" font-size="13.8" fill="#2e2e2e" stroke="#2e2e2e" stroke-width="0.2" textLength="69" lengthAdjust="spacingAndGlyphs">CHANGEUP</text>
<circle cx="503.9" cy="229.2" r="6.3" fill="#933F2C" stroke="#3c3c3c" stroke-width="1.3"/>
<text x="515.8" y="234.0" font-family="Liberation Sans, sans-serif" font-size="13.8" fill="#2e2e2e" stroke="#2e2e2e" stroke-width="0.2" textLength="47.8" lengthAdjust="spacingAndGlyphs">CUTTER</text>
<circle cx="503.9" cy="258.8" r="6.3" fill="#00D1ED" stroke="#3c3c3c" stroke-width="1.3"/>
<text x="515.8" y="263.6" font-family="Liberation Sans, sans-serif" font-size="13.8" fill="#2e2e2e" stroke="#2e2e2e" stroke-width="0.2" textLength="71" lengthAdjust="spacingAndGlyphs">CURVEBALL</text>
<circle cx="503.9" cy="288.4" r="6.3" fill="#FE9D00" stroke="#3c3c3c" stroke-width="1.3"/>
<text x="515.8" y="293.2" font-family="Liberation Sans, sans-serif" font-size="13.8" fill="#2e2e2e" stroke="#2e2e2e" stroke-width="0.2" textLength="43" lengthAdjust="spacingAndGlyphs">SINKER</text>
<circle cx="503.9" cy="318.0" r="6.3" fill="#EEE716" stroke="#3c3c3c" stroke-width="1.3"/>
<text x="515.8" y="322.8" font-family="Liberation Sans, sans-serif" font-size="13.8" fill="#2e2e2e" stroke="#2e2e2e" stroke-width="0.2" textLength="41.5" lengthAdjust="spacingAndGlyphs">SLIDER</text>
<circle cx="503.3" cy="493.7" r="30.6" fill="#fff" stroke="#5e5e5e" stroke-width="1.3"/>
<circle cx="503.0" cy="543.2" r="12.7" fill="#fff" stroke="#5e5e5e" stroke-width="1.3"/>
<text x="541.4" y="497.3" font-family="Liberation Sans, sans-serif" font-size="13.7" fill="#2e2e2e" stroke="#2e2e2e" stroke-width="0.2" textLength="60.3" lengthAdjust="spacingAndGlyphs">90 Pitches</text>
<text x="541.4" y="547.6" font-family="Liberation Sans, sans-serif" font-size="13.7" fill="#2e2e2e" stroke="#2e2e2e" stroke-width="0.2" textLength="52.2" lengthAdjust="spacingAndGlyphs">6 Pitches</text>
<text x="17.6" y="614" font-family="Liberation Sans, sans-serif" font-size="16" fill="#3d8a9a" textLength="60.6" lengthAdjust="spacingAndGlyphs">SAVANT</text>
<text x="475.3" y="614" font-family="Liberation Sans, sans-serif" font-size="16" fill="#1c1c1c" textLength="68" lengthAdjust="spacingAndGlyphs">SOURCE:</text>
<text x="546.7" y="614" font-family="Liberation Sans, sans-serif" font-size="16" fill="#1c1c1c" textLength="72.6" lengthAdjust="spacingAndGlyphs">MLB.COM</text>
</g>
</svg>
</body></html>
